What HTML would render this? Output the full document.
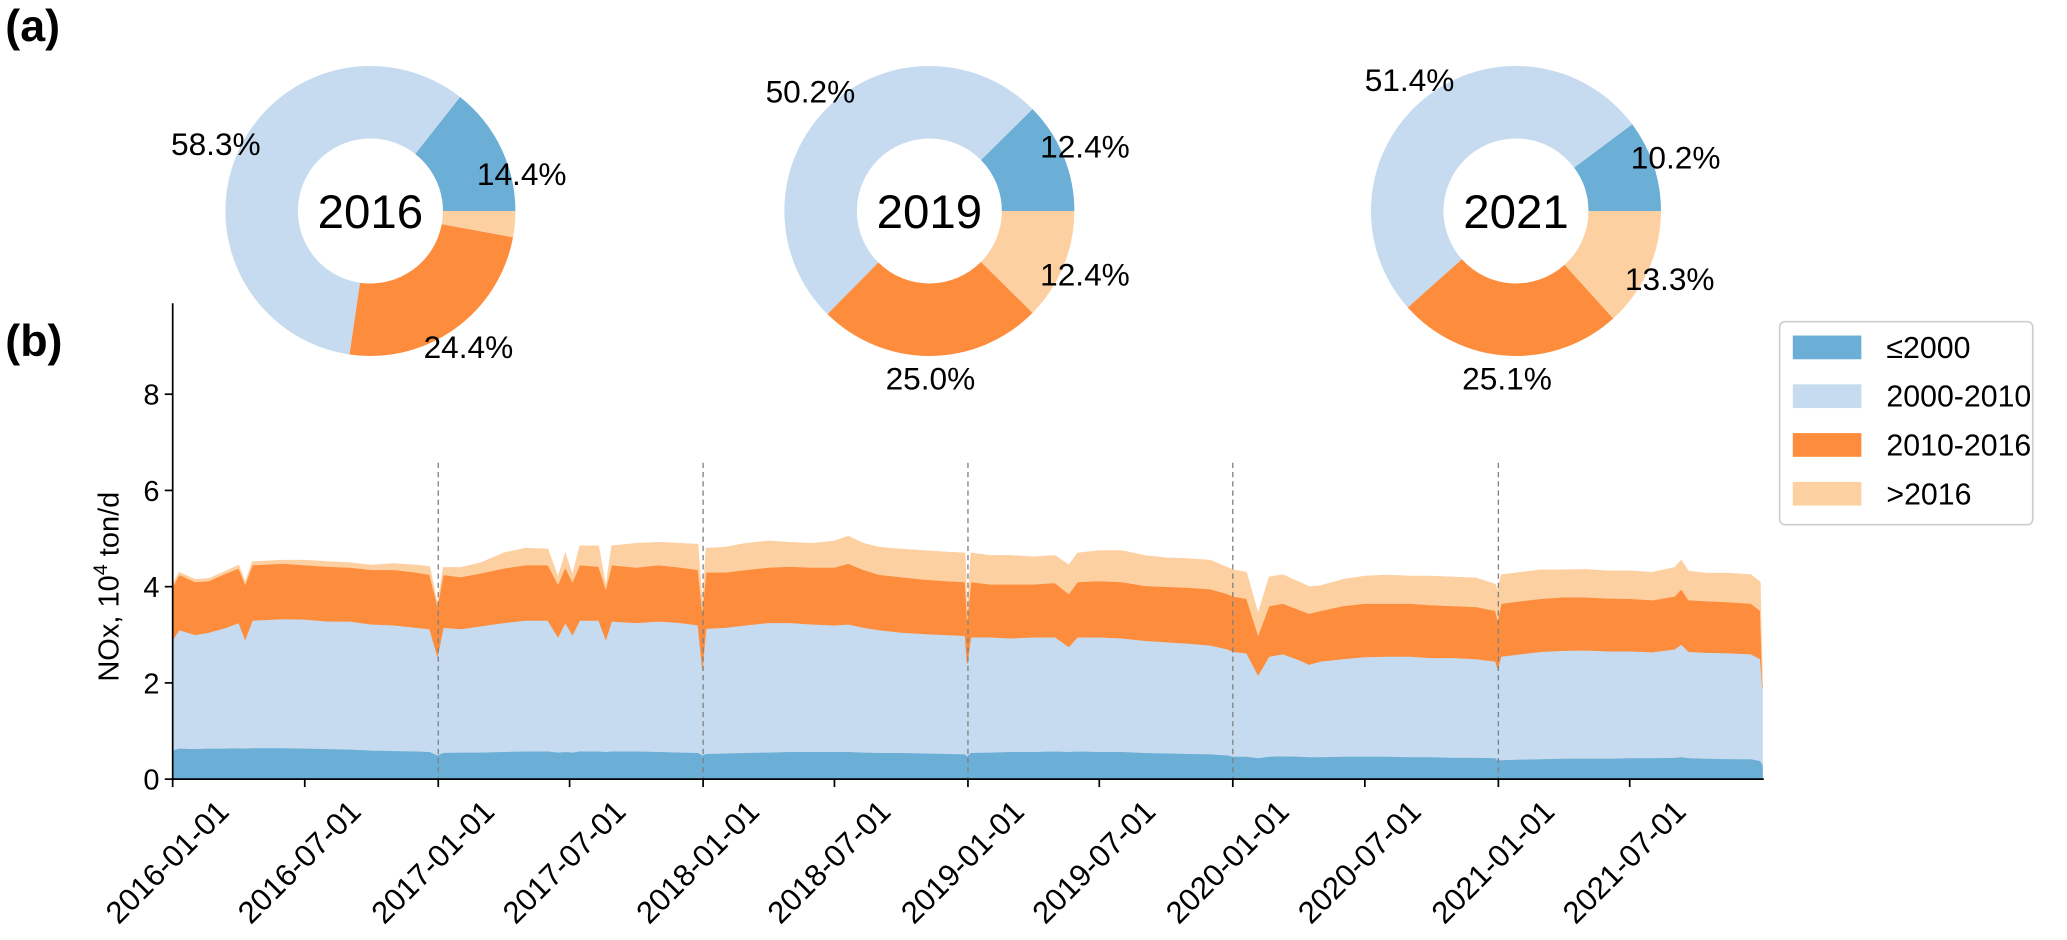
<!DOCTYPE html>
<html><head><meta charset="utf-8">
<style>
html,body{margin:0;padding:0;background:#fff;}
svg{display:block;font-family:"Liberation Sans",Arial,sans-serif;}
</style></head>
<body>
<svg id="fig" xmlns="http://www.w3.org/2000/svg" width="2067" height="940" viewBox="0 0 1568 713">
<text x="4" y="31" font-size="34" font-weight="bold">(a)</text>
<text x="4" y="270" font-size="34" font-weight="bold">(b)</text>
<g id="pies"></g>
<g id="area"></g>
<g id="legend"></g>
</svg>
<script>
// ---------- Pie data ----------
const pieYears = ["2016","2019","2021"];
const pie2016 = [14.4, 58.3, 24.4, 2.9];
const pie2019 = [12.4, 50.2, 25.0, 12.4];
const pie2021 = [10.2, 51.4, 25.1, 13.3];
const pieShowLabel = [[true,true,true,false],[true,true,true,true],[true,true,true,true]];
const categories = ["\u22642000","2000-2010","2010-2016",">2016"];
// ---------- Stacked area data (10^4 ton/d) ----------
const dates = ["2016-01-01","2016-01-10","2016-02-01","2016-02-20","2016-03-15","2016-04-01","2016-04-10","2016-04-20","2016-06-01","2016-07-01","2016-08-01","2016-09-01","2016-10-01","2016-11-01","2016-12-01","2016-12-20","2016-12-31",
"2017-01-08","2017-02-01","2017-03-01","2017-04-01","2017-05-01","2017-06-01","2017-06-15","2017-06-25","2017-07-05","2017-07-15","2017-08-10","2017-08-20","2017-08-28","2017-10-01","2017-11-01","2017-12-01","2017-12-25","2017-12-31",
"2018-01-05","2018-02-01","2018-03-01","2018-04-01","2018-05-01","2018-06-01","2018-07-01","2018-07-20","2018-08-10","2018-09-01","2018-10-01","2018-11-01","2018-12-01","2018-12-28","2018-12-31",
"2019-01-05","2019-02-01","2019-03-01","2019-04-01","2019-05-01","2019-05-20","2019-06-01","2019-07-01","2019-08-01","2019-09-01","2019-10-01","2019-11-01","2019-12-01","2019-12-25",
"2020-01-01","2020-01-20","2020-02-05","2020-02-20","2020-03-10","2020-04-01","2020-04-15","2020-05-01","2020-06-01","2020-07-01","2020-08-01","2020-09-01","2020-10-01","2020-11-01","2020-12-01","2020-12-28","2020-12-31",
"2021-01-05","2021-02-01","2021-03-01","2021-04-01","2021-05-01","2021-06-01","2021-07-01","2021-08-01","2021-09-01","2021-09-10","2021-09-20","2021-10-15","2021-11-15","2021-12-15","2021-12-28","2021-12-31"];
const sBefore2000 = [0.60,0.64,0.63,0.64,0.64,0.65,0.64,0.65,0.65,0.64,0.63,0.62,0.60,0.59,0.58,0.57,0.50,
0.55,0.56,0.56,0.57,0.58,0.58,0.56,0.57,0.56,0.58,0.58,0.57,0.58,0.58,0.57,0.56,0.55,0.50,
0.53,0.54,0.55,0.56,0.57,0.57,0.57,0.57,0.56,0.55,0.55,0.54,0.53,0.52,0.48,
0.55,0.56,0.57,0.57,0.58,0.57,0.58,0.57,0.57,0.55,0.54,0.53,0.52,0.50,
0.47,0.47,0.44,0.47,0.48,0.47,0.46,0.46,0.47,0.47,0.47,0.46,0.46,0.45,0.45,0.44,0.40,
0.40,0.41,0.42,0.43,0.43,0.43,0.44,0.44,0.45,0.46,0.44,0.43,0.42,0.42,0.38,0.30];
const s2000to2010 = [2.30,2.46,2.37,2.41,2.51,2.60,2.26,2.65,2.68,2.68,2.65,2.66,2.62,2.61,2.57,2.55,2.05,
2.60,2.56,2.62,2.68,2.72,2.72,2.39,2.68,2.44,2.72,2.72,2.33,2.70,2.67,2.71,2.69,2.65,1.80,
2.60,2.61,2.65,2.69,2.68,2.65,2.63,2.65,2.59,2.55,2.50,2.48,2.47,2.46,1.92,
2.40,2.39,2.36,2.38,2.37,2.18,2.37,2.38,2.36,2.33,2.31,2.29,2.26,2.20,
2.18,2.15,1.72,2.08,2.12,2.01,1.92,1.99,2.03,2.07,2.08,2.09,2.06,2.07,2.05,2.01,1.90,
2.15,2.19,2.23,2.24,2.25,2.23,2.22,2.20,2.25,2.34,2.21,2.20,2.20,2.18,2.12,1.60];
const s2010to2016 = [1.10,1.15,1.10,1.07,1.13,1.13,1.15,1.15,1.15,1.13,1.14,1.12,1.13,1.15,1.15,1.13,1.05,
1.10,1.08,1.10,1.13,1.15,1.15,1.10,1.15,1.10,1.15,1.12,1.05,1.17,1.15,1.17,1.15,1.15,1.20,
1.17,1.15,1.15,1.15,1.17,1.18,1.20,1.26,1.20,1.15,1.15,1.13,1.12,1.12,0.90,
1.15,1.10,1.12,1.10,1.13,1.10,1.15,1.17,1.17,1.14,1.15,1.16,1.17,1.15,
1.15,1.13,0.83,1.05,1.05,1.04,1.06,1.05,1.10,1.11,1.10,1.10,1.10,1.08,1.08,1.05,1.00,
1.10,1.10,1.10,1.11,1.10,1.10,1.09,1.08,1.10,1.15,1.07,1.07,1.06,1.05,1.00,0.05];
const sAfter2016 = [0.05,0.05,0.05,0.05,0.05,0.07,0.05,0.07,0.07,0.10,0.10,0.10,0.10,0.13,0.15,0.17,0.05,
0.15,0.20,0.22,0.32,0.35,0.33,0.15,0.30,0.15,0.40,0.43,0.05,0.40,0.50,0.47,0.50,0.53,0.10,
0.50,0.52,0.55,0.55,0.50,0.50,0.55,0.57,0.55,0.57,0.58,0.60,0.60,0.60,0.15,
0.60,0.60,0.60,0.57,0.57,0.60,0.60,0.63,0.65,0.63,0.60,0.60,0.60,0.55,
0.55,0.55,0.45,0.60,0.60,0.58,0.56,0.52,0.55,0.57,0.59,0.57,0.60,0.60,0.60,0.55,0.60,
0.60,0.60,0.60,0.57,0.58,0.57,0.58,0.58,0.60,0.60,0.60,0.58,0.60,0.60,0.60,0.05];
const yTicks = [0,2,4,6,8];
const xTickLabels = ["2016-01-01","2016-07-01","2017-01-01","2017-07-01","2018-01-01","2018-07-01","2019-01-01","2019-07-01","2020-01-01","2020-07-01","2021-01-01","2021-07-01"];
const yearLines = ["2017-01-01","2018-01-01","2019-01-01","2020-01-01","2021-01-01"];

const colors = ["#6baed6","#c6dbef","#fd8d3c","#fdd0a2"];
const NS = "http://www.w3.org/2000/svg";
function mk(tag, attrs, parent){const e=document.createElementNS(NS,tag);for(const k in attrs)e.setAttribute(k,attrs[k]);parent.appendChild(e);return e;}

// ---------- Pies ----------
const pieG = document.getElementById('pies');
const pieData = [pie2016, pie2019, pie2021];
const pieCx = [281, 705, 1150], pieCy = 160, R = 110, r0 = 55;
const labelShiftY = [[28,0,0,0],[0,0,0,0],[0,0,0,0]];
pieData.forEach((vals, pi) => {
  const g = mk('g', {}, pieG);
  
  
  const cx = pieCx[pi];
  const total = vals.reduce((a,b)=>a+b,0);
  let a0 = 0;
  vals.forEach((v, i) => {
    const a1 = a0 + v/total*2*Math.PI;
    const large = (a1-a0) > Math.PI ? 1 : 0;
    const p = (a,rr)=>[cx+rr*Math.cos(a), pieCy-rr*Math.sin(a)];
    const [x1,y1]=p(a0,R),[x2,y2]=p(a1,R),[x3,y3]=p(a1,r0),[x4,y4]=p(a0,r0);
    const path = mk('path', {d:`M${x1},${y1} A${R},${R} 0 ${large} 0 ${x2},${y2} L${x3},${y3} A${r0},${r0} 0 ${large} 1 ${x4},${y4} Z`, fill:colors[i]}, g);
    
    
    if (pieShowLabel[pi][i]) {
      const am = (a0+a1)/2;
      const [lx,ly] = p(am, R*1.16);
      const t = mk('text', {x:lx, y:ly+8+labelShiftY[pi][i], 'font-size':24, 'text-anchor':'middle'}, g);
      t.textContent = v.toFixed(1) + '%';
      
      
    }
    a0 = a1;
  });
  const yt = mk('text', {x:cx, y:pieCy+13, 'font-size':36, 'text-anchor':'middle'}, g);
  yt.textContent = pieYears[pi];
  
  
});

// ---------- Area chart ----------
const area = document.getElementById('area');
const X0 = 131, X1 = 1337, Y0 = 591, YPER = 36.5, YTOP = 230;
const t0 = Date.UTC(2016,0,1), tEnd = Date.UTC(2021,11,31);
function dayOf(s){const [y,m,d]=s.split('-').map(Number);return Date.UTC(y,m-1,d);}
function xs(s){return X0 + (dayOf(s)-t0)/(tEnd-t0)*(X1-X0);}
function ys(v){return Y0 - v*YPER;}
const series = [sBefore2000, s2000to2010, s2010to2016, sAfter2016];
const seriesNames = ['area-le2000','area-2000-2010','area-2010-2016','area-gt2016'];
const cum = dates.map(()=>0);
series.forEach((s, si) => {
  const lower = cum.slice();
  s.forEach((v,i)=>cum[i]+=v);
  let d = 'M' + dates.map((dt,i)=>xs(dt).toFixed(1)+','+ys(cum[i]).toFixed(1)).join(' L');
  for (let i = dates.length-1; i >= 0; i--) d += ' L' + xs(dates[i]).toFixed(1)+','+ys(lower[i]).toFixed(1);
  const p = mk('path', {d: d+' Z', fill: colors[si], stroke: colors[si], 'stroke-width':0.5}, area);
  
  
});
yearLines.forEach(dt => {
  const l = mk('line', {x1:xs(dt), x2:xs(dt), y1:351, y2:Y0, stroke:'#808080', 'stroke-width':1, 'stroke-dasharray':'4,3'}, area);
  
  
});
const yAxis = mk('line', {x1:X0, x2:X0, y1:YTOP, y2:Y0, stroke:'#000', 'stroke-width':1.3}, area);


const xAxis = mk('line', {x1:X0, x2:X1+1, y1:Y0, y2:Y0, stroke:'#000', 'stroke-width':1.3}, area);


yTicks.forEach(v => {
  const tk = mk('line', {x1:X0-6, x2:X0, y1:ys(v), y2:ys(v), stroke:'#000', 'stroke-width':1.3}, area);
  
  
  const t = mk('text', {x:X0-10, y:ys(v)+8, 'font-size':22, 'text-anchor':'end'}, area);
  t.textContent = v;
  
  
});
xTickLabels.forEach(s => {
  const x = xs(s);
  const tk = mk('line', {x1:x, x2:x, y1:Y0, y2:Y0+6, stroke:'#000', 'stroke-width':1.3}, area);
  
  
  const px = x + 44, py = Y0 + 26;
  const t = mk('text', {x:px, y:py, 'font-size':23.5, 'text-anchor':'end', transform:`rotate(-45 ${px} ${py})`}, area);
  t.textContent = s;
  
  
});
const yl = mk('text', {x:0, y:0, 'font-size':22, 'text-anchor':'middle', transform:'translate(90,445) rotate(-90)'}, area);
yl.innerHTML = 'NOx, 10<tspan dy="-9" font-size="15">4</tspan><tspan dy="9"> ton/d</tspan>';



// ---------- Legend ----------
const lg = document.getElementById('legend');
const box = mk('rect', {x:1350, y:244, width:192, height:154, rx:4, fill:'#fff', stroke:'#cccccc', 'stroke-width':1.2}, lg);


categories.forEach((c, i) => {
  const cy = 263.5 + i*37;
  const r = mk('rect', {x:1360, y:cy-9, width:52, height:18, fill:colors[i]}, lg);
  
  
  const t = mk('text', {x:1431, y:cy+8, 'font-size':23}, lg);
  t.textContent = c;
  
  
});
</script>
</body></html>
